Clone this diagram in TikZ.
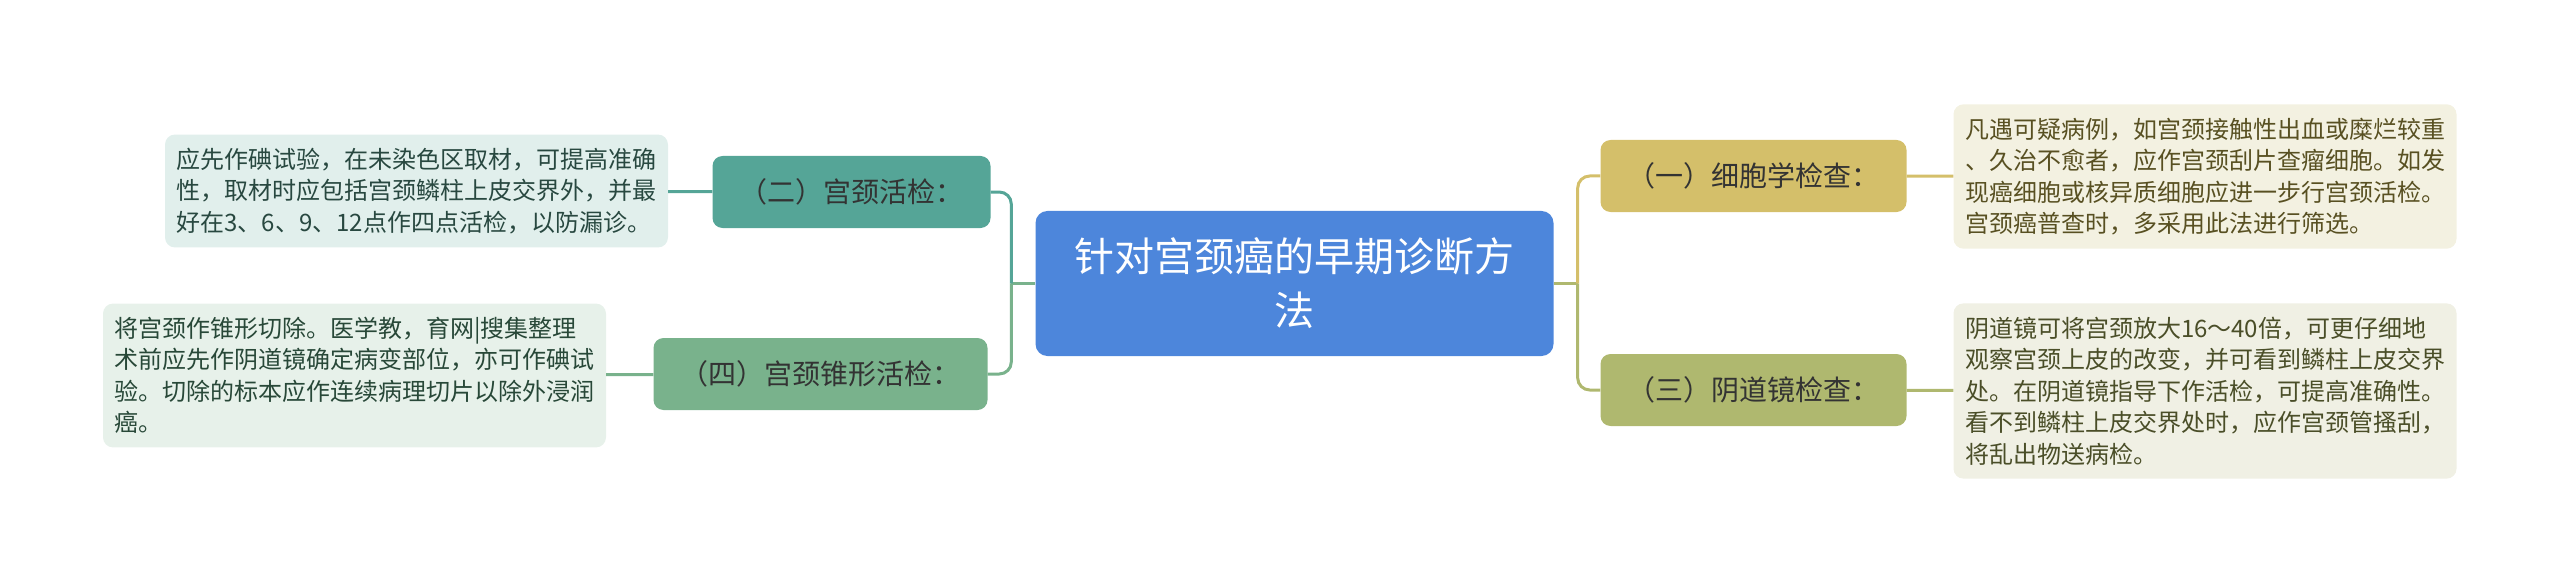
\documentclass[tikz,border=0pt]{standalone}
\usepackage{fontspec}
\newfontfamily\cjk{Noto Sans CJK SC}
\usepackage{tikz}
\definecolor{kek}{HTML}{4D86DB}
\definecolor{arany}{HTML}{D4BF6A}
\definecolor{oliva}{HTML}{AFB86F}
\definecolor{turkiz}{HTML}{55A597}
\definecolor{zold}{HTML}{79B28C}
\begin{document}
\begin{tikzpicture}[x=1pt,y=-1pt,
gyoker/.style={rectangle,rounded corners=12pt,fill=kek,text=white,align=center,
  font=\cjk\fontsize{40}{54}\selectfont,inner xsep=39pt,inner ysep=27pt},
ag/.style={rectangle,rounded corners=10pt,text=black!80,minimum height=72pt,
  font=\cjk\fontsize{28}{34}\selectfont,inner xsep=27pt},
level/.style={rectangle,rounded corners=10pt,align=left,text width=480pt,
  font=\cjk\fontsize{24}{31.5}\selectfont,inner xsep=11.5pt,inner ysep=13.5pt}
]
\useasboundingbox (0,0) rectangle (2560,583);
\pgfmathsetmacro{\jobb}{1753.5}
\pgfmathsetmacro{\jobbszoveg}{2205}
\node[gyoker](root) at (1294.5,283.5){针对宫颈癌的早期诊断方\\法};
\node[ag,fill=arany](cyto) at (\jobb,176){（一）细胞学检查：};
\node[ag,fill=oliva](colpo) at (\jobb,390){（三）阴道镜检查：};
\node[ag,fill=turkiz](biopsy) at (851.5,192){（二）宫颈活检：};
\node[ag,fill=zold](cone) at (820.5,374){（四）宫颈锥形活检：};
\node[level,fill={rgb,255:red,243;green,241;blue,225},text={rgb,255:red,88;green,80;blue,34}](cyto-text) at (\jobbszoveg,176.5){凡遇可疑病例，如宫颈接触性出血或糜烂较重\\
、久治不愈者，应作宫颈刮片查瘤细胞。如发\\
现癌细胞或核异质细胞应进一步行宫颈活检。\\
宫颈癌普查时，多采用此法进行筛选。};
\node[level,fill={rgb,255:red,240;green,240;blue,228},text={rgb,255:red,74;green,78;blue,40}](colpo-text) at (\jobbszoveg,391){阴道镜可将宫颈放大16～40倍，可更仔细地\\
观察宫颈上皮的改变，并可看到鳞柱上皮交界\\
处。在阴道镜指导下作活检，可提高准确性。\\
看不到鳞柱上皮交界处时，应作宫颈管搔刮，\\
将乱出物送病检。};
\node[level,fill={rgb,255:red,225;green,239;blue,236},text={rgb,255:red,40;green,72;blue,64}](biopsy-text) at (416.5,191){应先作碘试验，在未染色区取材，可提高准确\\
性，取材时应包括宫颈鳞柱上皮交界外，并最\\
好在3、6、9、12点作四点活检，以防漏诊。};
\node[level,fill={rgb,255:red,231;green,241;blue,234},text={rgb,255:red,40;green,72;blue,56}](cone-text) at (354.5,375.5){将宫颈作锥形切除。医学教，育网|搜集整理\\
术前应先作阴道镜确定病变部位，亦可作碘试\\
验。切除的标本应作连续病理切片以除外浸润\\
癌。};
\coordinate (jobb-ag) at ([xshift=24pt]root.east);
\coordinate (bal-ag) at ([xshift=-24pt]root.west);
\begin{scope}[line width=3pt, rounded corners=12pt]
\draw[oliva] (root.east)--(jobb-ag);
\draw[zold] (root.west)--(bal-ag);
\draw[arany] (jobb-ag)|-(cyto.west);
\draw[oliva] (jobb-ag)|-(colpo.west);
\draw[turkiz] (bal-ag)|-(biopsy.east);
\draw[zold] (bal-ag)|-(cone.east);
\draw[arany] (cyto)--(cyto-text);
\draw[oliva] (colpo)--(colpo-text);
\draw[turkiz] (biopsy)--(biopsy-text);
\draw[zold] (cone)--(cone-text);
\end{scope}
\end{tikzpicture}
\end{document}
